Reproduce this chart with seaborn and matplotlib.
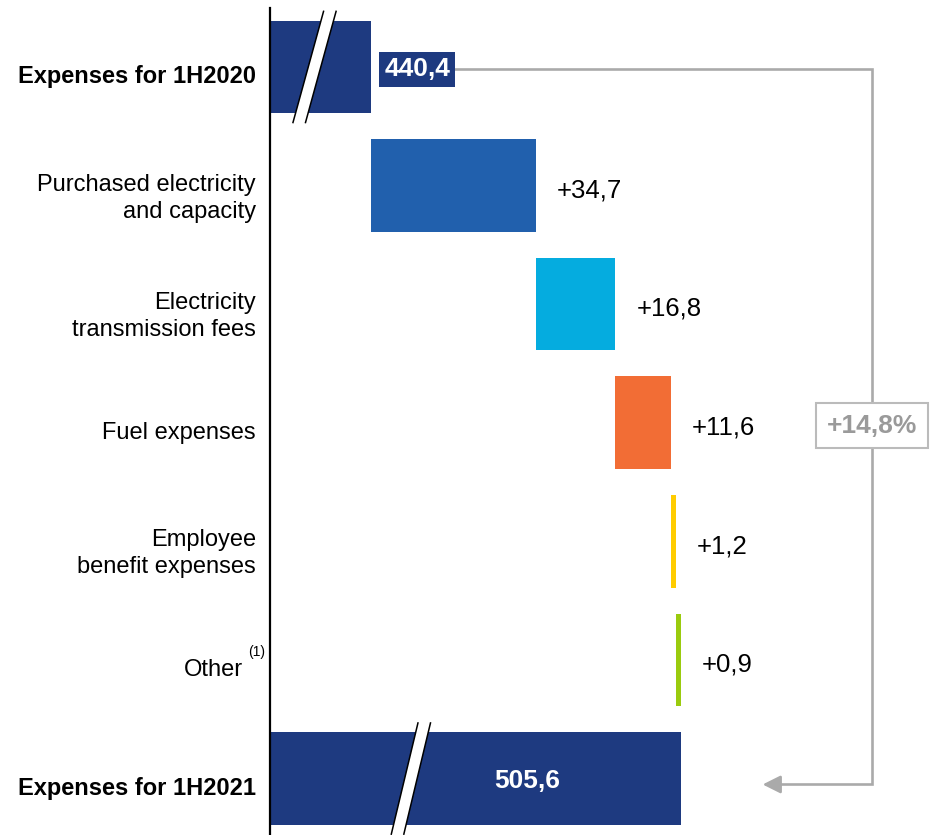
import matplotlib
matplotlib.use("Agg")
import matplotlib.pyplot as plt
import matplotlib.transforms as mtransforms
from matplotlib.patches import Polygon
import seaborn as sns
import pandas as pd

# ---- data -------------------------------------------------------------
categories = [
    "Expenses for 1H2020",
    "Purchased electricity\nand capacity",
    "Electricity\ntransmission fees",
    "Fuel expenses",
    "Employee\nbenefit expenses",
    "Other",
    "Expenses for 1H2021",
]
values = [440.4, 34.7, 16.8, 11.6, 1.2, 0.9, 505.6]
is_total = [True, False, False, False, False, False, True]
value_labels = ["440,4", "+34,7", "+16,8", "+11,6", "+1,2", "+0,9", "505,6"]
change_label = "+14,8%"
colors = ["#1E3A80", "#2160AD", "#05ACDF", "#F26D35", "#FFCC00", "#9ACB0E", "#1E3A80"]

# waterfall starts for the increments
starts = []
running = values[0]
for v, tot in zip(values, is_total):
    if tot:
        starts.append(0.0)
    else:
        starts.append(running)
        running += v

df = pd.DataFrame({"category": categories, "value": values})

# ---- figure -----------------------------------------------------------
sns.set_style("white")
plt.rcParams["font.family"] = ["Liberation Sans", "DejaVu Sans"]

fig = plt.figure(figsize=(9.4, 8.35), dpi=100)
ax = fig.add_axes([270 / 940, 0, 670 / 940, 827 / 835])

sns.barplot(data=df, x="value", y="category", hue="category", palette=colors,
            dodge=False, legend=False, errorbar=None, width=0.78,
            saturation=1, ax=ax)

# shift increment bars to their running start
for p in ax.patches:
    idx = int(round(p.get_y() + p.get_height() / 2))
    if not is_total[idx]:
        p.set_x(starts[idx])
    p.set_edgecolor("none")

x_lo, x_hi = 419.12, 560.26
ax.set_xlim(x_lo, x_hi)
ax.set_ylim(6.476, -0.497)

for s in ["top", "right", "bottom"]:
    ax.spines[s].set_visible(False)
ax.spines["left"].set_color("black")
ax.spines["left"].set_linewidth(1.6)
ax.spines["left"].set_zorder(5)
ax.set_xticks([])
ax.set_xlabel("")
ax.set_ylabel("")
ax.tick_params(axis="y", length=0, pad=10, labelsize=17, labelcolor="black")
ax.set_yticks(range(len(categories)))
ax.set_yticklabels(categories, multialignment="right", linespacing=1.3)
for i, lab in enumerate(ax.get_yticklabels()):
    dx = -0.13 if categories[i] == "Other" else 0.0
    if is_total[i]:
        lab.set_fontweight("bold")
    lab.set_transform(lab.get_transform() +
                      mtransforms.ScaledTranslation(dx, -0.075, fig.dpi_scale_trans))

# footnote marker next to "Other"
ax.text(-22 / 670, 4.93, "(1)", transform=ax.get_yaxis_transform(),
        fontsize=10, ha="left", va="center", color="black", clip_on=False)

# ---- axis break marks -------------------------------------------------
def break_mark(xc, yc, shift, half_w=1.32, half_h=0.475):
    top = yc - half_h
    bot = yc + half_h
    pts = [(xc - half_w + shift / 2, top), (xc + half_w + shift / 2, top),
           (xc + half_w - shift / 2, bot), (xc - half_w - shift / 2, bot)]
    ax.add_patch(Polygon(pts, closed=True, facecolor="white", edgecolor="none",
                         zorder=4, clip_on=False))
    for sgn in (-1, 1):
        ax.plot([xc + sgn * half_w + shift / 2, xc + sgn * half_w - shift / 2],
                [top, bot], color="black", lw=1.1, zorder=4.5, clip_on=False,
                solid_capstyle="butt")

break_mark(428.5, 0, 6.53)
break_mark(448.8, 6, 5.69)

# ---- value labels -----------------------------------------------------
ends = [s + v if not t else v for s, v, t in zip(starts, values, is_total)]
for i, (lab, end) in enumerate(zip(value_labels, ends)):
    if i == 0:
        ax.annotate(lab, xy=(end, i + 0.02), xytext=(9.5, 0), textcoords="offset points",
                    ha="left", va="center", fontsize=19, fontweight="bold",
                    color="white", zorder=7,
                    bbox=dict(boxstyle="square,pad=0.2", facecolor=colors[0],
                              edgecolor="none"))
    elif i == len(values) - 1:
        ax.text(end - 32.3, i + 0.02, lab, ha="center", va="center", fontsize=19,
                fontweight="bold", color="white", zorder=6)
    else:
        ax.annotate(lab, xy=(end, i + 0.04), xytext=(15, 0), textcoords="offset points",
                    ha="left", va="center", fontsize=18.5, color="black")

# ---- total change bracket --------------------------------------------
gray = "#AAAAAA"
x_br = 545.9
y_top = 0.017
y_bot = 6.05
ax.plot([450, x_br, x_br, 524], [y_top, y_top, y_bot, y_bot], color=gray, lw=1.9,
        zorder=3, solid_joinstyle="miter", clip_on=False)
ax.annotate("", xy=(522.9, y_bot), xytext=(526, y_bot),
            arrowprops=dict(arrowstyle="-|>,head_length=0.6,head_width=0.3",
                            color=gray, lw=1.9, mutation_scale=18,
                            shrinkA=0, shrinkB=0))
ax.text(x_br, 3.025, change_label, ha="center", va="center", fontsize=19,
        fontweight="bold", color="#9A9A9A", zorder=6,
        bbox=dict(boxstyle="square,pad=0.4", facecolor="white",
                  edgecolor="#BBBBBB", linewidth=1.5))

fig.savefig("out.png", dpi=100)
